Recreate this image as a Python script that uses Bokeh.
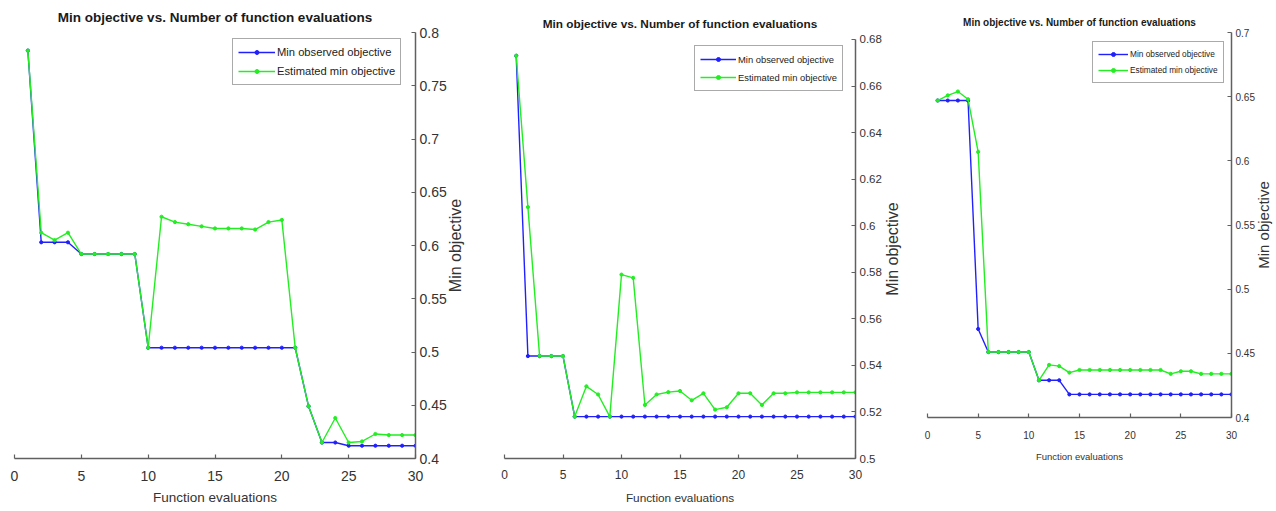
import math
from bokeh.plotting import figure
from bokeh.layouts import row
from bokeh.models import Range1d, FixedTicker, CustomJSTickFormatter, Label
from bokeh.embed import file_html
from bokeh.resources import INLINE

# ---------------- data ----------------
evals = list(range(1, 31))
x_ticks = [0, 5, 10, 15, 20, 25, 30]

title_text = "Min objective vs. Number of function evaluations"
x_label = "Function evaluations"
y_label = "Min objective"
series_names = ["Min observed objective", "Estimated min objective"]

# panel 1
p1_observed = [0.783, 0.603, 0.603, 0.603, 0.592, 0.592, 0.592, 0.592, 0.592, 0.504,
               0.504, 0.504, 0.504, 0.504, 0.504, 0.504, 0.504, 0.504, 0.504, 0.504,
               0.504, 0.449, 0.415, 0.415, 0.412, 0.412, 0.412, 0.412, 0.412, 0.412]
p1_estimated = [0.783, 0.612, 0.605, 0.612, 0.592, 0.592, 0.592, 0.592, 0.592, 0.504,
                0.627, 0.622, 0.620, 0.618, 0.616, 0.616, 0.616, 0.615, 0.622, 0.624,
                0.504, 0.449, 0.415, 0.438, 0.415, 0.416, 0.423, 0.422, 0.422, 0.422]
p1_y_ticks = [0.4, 0.45, 0.5, 0.55, 0.6, 0.65, 0.7, 0.75, 0.8]

# panel 2
p2_observed = [0.673, 0.544, 0.544, 0.544, 0.544, 0.518, 0.518, 0.518, 0.518, 0.518,
               0.518, 0.518, 0.518, 0.518, 0.518, 0.518, 0.518, 0.518, 0.518, 0.518,
               0.518, 0.518, 0.518, 0.518, 0.518, 0.518, 0.518, 0.518, 0.518, 0.518]
p2_estimated = [0.673, 0.608, 0.544, 0.544, 0.544, 0.518, 0.531, 0.5275, 0.518, 0.579,
                0.5776, 0.523, 0.5275, 0.5285, 0.529, 0.525, 0.528, 0.521, 0.522, 0.528,
                0.528, 0.523, 0.528, 0.528, 0.5284, 0.5284, 0.5284, 0.5284, 0.5284, 0.5284]
p2_y_ticks = [0.5, 0.52, 0.54, 0.56, 0.58, 0.6, 0.62, 0.64, 0.66, 0.68]

# panel 3
p3_observed = [0.647, 0.647, 0.647, 0.647, 0.469, 0.451, 0.451, 0.451, 0.451, 0.451,
               0.429, 0.429, 0.429, 0.418, 0.418, 0.418, 0.418, 0.418, 0.418, 0.418,
               0.418, 0.418, 0.418, 0.418, 0.418, 0.418, 0.418, 0.418, 0.418, 0.418]
p3_estimated = [0.647, 0.651, 0.654, 0.648, 0.607, 0.451, 0.451, 0.451, 0.451, 0.451,
                0.429, 0.441, 0.440, 0.435, 0.437, 0.437, 0.437, 0.437, 0.437, 0.437,
                0.437, 0.437, 0.437, 0.434, 0.436, 0.436, 0.434, 0.434, 0.434, 0.434]
p3_y_ticks = [0.4, 0.45, 0.5, 0.55, 0.6, 0.65, 0.7]

# ---------------- style ----------------
BLUE = "#2020ff"
GREEN = "#22ee22"
FONT = "'Liberation Sans', Arial, sans-serif"
AXIS_COLOR = "#606060"
TEXT_COLOR = "#333333"
FRAME_TOP = 32
FRAME_BOTTOM = 53


def make_panel(observed, estimated, y_ticks, width, height, left, right, top_pad, s):
    lo, hi = y_ticks[0], y_ticks[-1]
    p = figure(width=width, height=height,
               x_range=Range1d(x_ticks[0], x_ticks[-1]),
               y_range=Range1d(lo, hi + top_pad),
               y_axis_location="right",
               output_backend="svg", toolbar_location=None,
               min_border_left=left, min_border_right=right,
               min_border_top=FRAME_TOP, min_border_bottom=FRAME_BOTTOM)
    p.outline_line_color = None
    p.xgrid.visible = False
    p.ygrid.visible = False

    p.title.text = title_text
    p.title.align = "center"
    p.title.text_font = FONT
    p.title.text_font_style = "bold"
    p.title.text_font_size = f"{s['title']}px"
    p.title.text_color = "#1a1a1a"
    p.title.standoff = s["title_standoff"]

    fmt = CustomJSTickFormatter(code="return String(Number(tick.toFixed(4)));")
    xa = p.xaxis[0]
    ya = p.yaxis[0]
    xa.ticker = FixedTicker(ticks=x_ticks)
    ya.ticker = FixedTicker(ticks=y_ticks)
    xa.bounds = (x_ticks[0], x_ticks[-1])
    ya.bounds = (lo, hi)
    xa.formatter = fmt
    ya.formatter = fmt
    for ax in (xa, ya):
        ax.major_tick_in = 4
        ax.major_tick_out = 0
        ax.minor_tick_line_color = None
        ax.axis_line_color = AXIS_COLOR
        ax.axis_line_width = 1.5
        ax.major_tick_line_color = AXIS_COLOR
        ax.major_tick_line_width = 1.2
        ax.major_label_text_font = FONT
        ax.major_label_text_color = TEXT_COLOR
    xa.major_label_text_font_size = f"{s['xtick']}px"
    ya.major_label_text_font_size = f"{s['ytick']}px"
    xa.major_label_standoff = s["xtick_standoff"]
    ya.major_label_standoff = 4

    xa.axis_label = x_label
    xa.axis_label_text_font = FONT
    xa.axis_label_text_font_style = "normal"
    xa.axis_label_text_font_size = f"{s['xlab']}px"
    xa.axis_label_text_color = TEXT_COLOR
    xa.axis_label_standoff = s["xlab_standoff"]

    # y-axis title, rotated to read bottom-to-top, centred on the axis
    p.add_layout(Label(x=s["ylabel_x"], y=(lo + hi) / 2, text=y_label,
                       angle=math.pi / 2, angle_units="rad",
                       text_font=FONT, text_font_size=f"{s['ylab']}px",
                       text_color=TEXT_COLOR, text_align="center",
                       text_baseline="middle"), "right")

    p.line(evals, observed, line_color=BLUE, line_width=1.4, legend_label=series_names[0])
    p.scatter(evals, observed, size=3.2, color=BLUE, legend_label=series_names[0])
    p.line(evals, estimated, line_color=GREEN, line_width=1.4, legend_label=series_names[1])
    p.scatter(evals, estimated, size=3.2, color=GREEN, legend_label=series_names[1])

    lg = p.legend[0]
    lg.location = s["legend_loc"]
    lg.border_line_color = "#555555"
    lg.border_line_width = 1.5
    lg.background_fill_color = "white"
    lg.background_fill_alpha = 1.0
    lg.label_text_font = FONT
    lg.label_text_font_size = f"{s['leg']}px"
    lg.label_text_color = "#222222"
    lg.glyph_width = s["glyph_w"]
    lg.glyph_height = 10
    lg.label_standoff = 2
    lg.label_height = s["item_h"]
    lg.spacing = s["leg_spacing"]
    lg.padding = 5
    lg.margin = 0
    return p


p1 = make_panel(p1_observed, p1_estimated, p1_y_ticks, 472, 511, 14, 57, 0.0,
                dict(title=13.5, title_standoff=15, xtick=14, ytick=14, xtick_standoff=12,
                     xlab=13.5, xlab_standoff=6, ylab=16, ylabel_x=32.99,
                     leg=11.2, glyph_w=37, item_h=16, leg_spacing=3,
                     legend_loc=(218, 373)))
p2 = make_panel(p2_observed, p2_estimated, p2_y_ticks, 440, 511, 32, 57, 0.003,
                dict(title=11.8, title_standoff=3, xtick=12, ytick=11.5, xtick_standoff=11,
                     xlab=11.8, xlab_standoff=9, ylab=16, ylabel_x=33.16,
                     leg=9.4, glyph_w=36, item_h=16, leg_spacing=2,
                     legend_loc=(190, 367)))
p3 = make_panel(p3_observed, p3_estimated, p3_y_ticks, 364, 470, 15, 45, 0.0,
                dict(title=10, title_standoff=10, xtick=10, ytick=10, xtick_standoff=13,
                     xlab=9.5, xlab_standoff=9, ylab=15, ylabel_x=33.16,
                     leg=8.3, glyph_w=30, item_h=14, leg_spacing=2,
                     legend_loc=(165, 334)))

layout = row(p1, p2, p3)
open("out.html", "w").write(file_html(layout, INLINE))
